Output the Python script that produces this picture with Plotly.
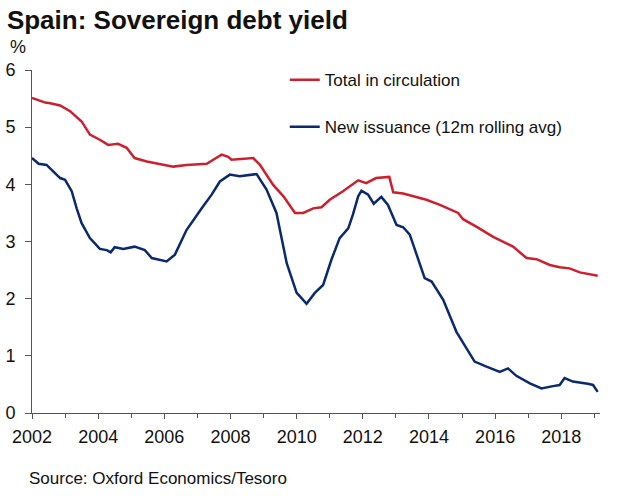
import plotly.graph_objects as go

# Decimal-year positions and yields (%)
red_x = [2002.0, 2002.4, 2002.55, 2002.85, 2003.15, 2003.5, 2003.75, 2004.05, 2004.3, 2004.6,
         2004.86, 2005.1, 2005.47, 2005.87, 2006.27, 2006.67, 2007.28, 2007.48, 2007.73, 2007.93,
         2008.03, 2008.69, 2008.89, 2009.29, 2009.6, 2009.95, 2010.2, 2010.5, 2010.75, 2011.0,
         2011.4, 2011.86, 2012.1, 2012.4, 2012.8, 2012.92, 2013.22, 2013.92, 2014.33, 2014.88,
         2015.03, 2015.43, 2015.94, 2016.54, 2016.95, 2017.25, 2017.65, 2017.95, 2018.25, 2018.56,
         2019.1]
red_y = [5.51, 5.43, 5.42, 5.38, 5.28, 5.10, 4.87, 4.78, 4.69, 4.71,
         4.64, 4.46, 4.40, 4.36, 4.31, 4.34, 4.36, 4.43, 4.52, 4.48,
         4.43, 4.46, 4.34, 3.99, 3.79, 3.50, 3.50, 3.58, 3.60, 3.73,
         3.88, 4.07, 4.02, 4.11, 4.13, 3.86, 3.84, 3.73, 3.64, 3.50,
         3.39, 3.26, 3.08, 2.91, 2.71, 2.69, 2.59, 2.55, 2.53, 2.46,
         2.40]

blue_x = [2002.0, 2002.2, 2002.44, 2002.64, 2002.85, 2003.0, 2003.2, 2003.35, 2003.5, 2003.75,
          2004.05, 2004.26, 2004.38, 2004.5, 2004.76, 2005.1, 2005.41, 2005.62, 2005.97, 2006.07,
          2006.32, 2006.67, 2007.13, 2007.43, 2007.68, 2007.98, 2008.28, 2008.79, 2009.09, 2009.39,
          2009.7, 2010.0, 2010.1, 2010.3, 2010.55, 2010.8, 2011.05, 2011.3, 2011.56, 2011.7,
          2011.86, 2011.96, 2012.16, 2012.33, 2012.56, 2012.76, 2013.02, 2013.22, 2013.42, 2013.67,
          2013.87, 2014.08, 2014.43, 2014.83, 2015.13, 2015.38, 2015.74, 2016.14, 2016.39, 2016.64,
          2017.05, 2017.4, 2017.75, 2017.95, 2018.1, 2018.35, 2018.8, 2018.96, 2019.1]
blue_y = [4.46, 4.36, 4.34, 4.23, 4.11, 4.08, 3.88, 3.58, 3.32, 3.06,
          2.87, 2.85, 2.81, 2.90, 2.87, 2.91, 2.85, 2.71, 2.66, 2.65,
          2.77, 3.20, 3.58, 3.82, 4.05, 4.17, 4.14, 4.18, 3.91, 3.50,
          2.62, 2.10, 2.04, 1.91, 2.10, 2.24, 2.68, 3.06, 3.23, 3.47,
          3.79, 3.89, 3.82, 3.66, 3.78, 3.64, 3.29, 3.25, 3.12, 2.68,
          2.36, 2.30, 1.98, 1.42, 1.13, 0.90, 0.81, 0.72, 0.78, 0.65,
          0.52, 0.43, 0.47, 0.49, 0.61, 0.55, 0.51, 0.49, 0.37]

year_ticks = [2002, 2004, 2006, 2008, 2010, 2012, 2014, 2016, 2018]
series_names = ["Total in circulation", "New issuance (12m rolling avg)"]

RED = "#CC2030"
BLUE = "#0B2A6B"
AXIS = "#555555"
FONT = "Liberation Sans, Arial, sans-serif"

fig = go.Figure()
fig.add_trace(go.Scatter(x=red_x, y=red_y, mode="lines", name=series_names[0],
                         line=dict(color=RED, width=2.5), legendgroup="a"))
fig.add_trace(go.Scatter(x=blue_x, y=blue_y, mode="lines", name=series_names[1],
                         line=dict(color=BLUE, width=2.5), legendgroup="b"))

fig.update_layout(
    width=625, height=500,
    margin=dict(l=32, r=25, t=70, b=87),
    paper_bgcolor="white", plot_bgcolor="white",
    font=dict(family=FONT, size=17, color="#111111"),
    title=dict(text="<b>Spain: Sovereign debt yield</b>", x=0.011, xanchor="left",
               y=0.96, yanchor="middle", font=dict(size=26, color="#111111")),
    showlegend=True,
    legend=dict(x=0.445, xanchor="left", y=1.023, yanchor="top", bgcolor="rgba(0,0,0,0)",
                font=dict(size=17), itemwidth=30, tracegroupgap=22,
                traceorder="grouped"),
    xaxis=dict(range=[2002, 2019.17], tickvals=year_ticks, ticktext=[str(v) for v in year_ticks],
               ticks="outside", ticklen=5, tickcolor=AXIS, showline=True,
               linecolor=AXIS, linewidth=1, showgrid=False, zeroline=False,
               tickfont=dict(size=18), ticklabelstandoff=2, automargin=False,
               minor=dict(dtick=1, tick0=2002, ticks="outside", ticklen=4, tickcolor=AXIS,
                          showgrid=False)),
    yaxis=dict(range=[0, 6], dtick=1, ticks="outside", ticklen=6, tickcolor=AXIS,
               showline=True, linecolor=AXIS, linewidth=1, showgrid=False,
               zeroline=False, tickfont=dict(size=18), ticklabelstandoff=6,
               automargin=False),
    annotations=[
        dict(text="%", xref="paper", yref="paper", x=-0.042, y=1.067, xanchor="left",
             yanchor="middle", showarrow=False, font=dict(size=18)),
        dict(text="Source: Oxford Economics/Tesoro", xref="paper", yref="paper",
             x=-0.008, y=-0.192, xanchor="left", yanchor="middle", showarrow=False,
             font=dict(size=17)),
    ],
)

fig.write_html("out.html")
